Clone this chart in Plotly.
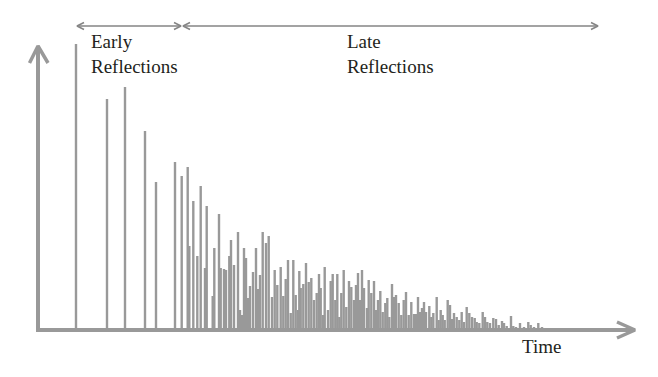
import plotly.graph_objects as go

# ---- data (time in ms, amplitude in arbitrary units) ----
early_times = [38, 69, 87, 107, 118]
early_amps = [286, 231, 243, 199, 148]

late_times = [
    137, 143.7, 149.7, 151.3, 155.3, 159.3, 162.7, 167, 168.7, 174.7, 176.3, 181, 182.7, 186, 188,
    191.3, 193, 196, 200, 202, 204, 206, 208, 210, 212, 215, 218, 220, 222, 224.7, 228, 230.7,
    234, 236.7, 239.3, 242.7, 245.3, 247.7, 250, 252.7, 255.3, 257.7, 260, 261.3, 262.7, 265.3,
    268, 270.7, 273.3, 276, 278.7, 281, 282.7, 285, 286.7, 290, 292.7, 294.7, 297.3, 299.3,
    301.3, 303.3, 305.7, 308.3, 311, 313.3, 316, 318, 320, 322, 324, 326, 329, 330.7, 333.3,
    336, 338, 340, 342.3, 344.7, 347.3, 349.3, 351.3, 354, 356, 358, 360.7, 363.3, 365.7, 368,
    370.7, 373.3, 376, 378, 380, 382, 384, 386, 388, 391.3, 393.3, 395.3, 398.7, 400.7, 402.7,
    404.7, 406.7, 409.7, 412, 414, 416, 418.7, 421.3, 423.7, 426, 428.7, 431.3, 434, 436.7,
    438.7, 441.3, 444.7, 447, 449.3, 452, 455.3, 458, 460.7, 464, 466, 468.7, 473, 475.3, 478,
    482, 486, 490.3, 492.7, 496, 500.3, 504, 507,
]
late_amps = [
    168, 154, 163, 84, 129, 74, 144, 62, 124, 34, 82, 116, 62, 61, 60,
    74, 90, 65, 98, 20, 15, 82, 72, 32, 44, 58, 82, 41, 55, 98, 87, 94,
    33, 60, 45, 63, 34, 51, 70, 17, 70, 35, 20, 59, 42, 46,
    67, 48, 52, 30, 37, 56, 42, 15, 63, 20, 49, 56, 30, 56,
    13, 37, 60, 23, 49, 43, 30, 45, 57, 30, 60, 42, 22, 50, 37,
    49, 20, 30, 39, 18, 27, 32, 13, 46, 33, 35, 27, 15, 30, 38,
    15, 28, 16, 16, 33, 18, 22, 28, 18, 24, 13, 17, 33, 10, 20,
    15, 10, 30, 25, 11, 17, 13, 10, 18, 8, 23, 17, 13, 12,
    8, 7, 18, 13, 8, 7, 12, 11, 5, 9, 7, 4, 14, 4, 3,
    7, 3, 8, 5, 3, 7, 3, 2,
]

early_span = [39, 143]
late_span = [145, 560]
early_label = "Early<br>Reflections"
late_label = "Late<br>Reflections"
x_label = "Time"

# ---- style ----
GRAY = "#999999"
ARROW_GRAY = "#858585"
TEXT = "#231f20"
FONT = "Liberation Serif"

X_RANGE = [-38, 620]
Y_RANGE = [-47, 330]

fig = go.Figure()

fig.add_trace(go.Bar(
    x=early_times + late_times,
    y=early_amps + late_amps,
    width=2.4,
    marker=dict(color=GRAY, line=dict(width=0)),
    hoverinfo="skip",
))

# axes with open arrowheads (in axis units: 1 unit ~ 1 px)
y_top = 284
x_end = 597
fig.add_trace(go.Scatter(  # vertical axis
    x=[0, 0], y=[-1, y_top], mode="lines",
    line=dict(color=GRAY, width=4), hoverinfo="skip"))
fig.add_trace(go.Scatter(  # vertical arrowhead
    x=[-8.5, 0, 10], y=[y_top - 17, y_top, y_top - 17], mode="lines",
    line=dict(color=GRAY, width=3.5), hoverinfo="skip"))
fig.add_trace(go.Scatter(  # horizontal axis
    x=[-2, x_end], y=[0, 0], mode="lines",
    line=dict(color=GRAY, width=4), hoverinfo="skip"))
fig.add_trace(go.Scatter(  # horizontal arrowhead
    x=[x_end - 18, x_end, x_end - 18], y=[8, 0, -8], mode="lines",
    line=dict(color=GRAY, width=3.5), hoverinfo="skip"))

# span arrows at the top
span_y = 304
for a, b in (early_span, late_span):
    fig.add_trace(go.Scatter(
        x=[a, b], y=[span_y, span_y], mode="lines",
        line=dict(color=ARROW_GRAY, width=1.6), hoverinfo="skip"))
    fig.add_trace(go.Scatter(
        x=[a + 7, a, a + 7, None, b - 7, b, b - 7],
        y=[span_y + 3.5, span_y, span_y - 3.5, None, span_y + 3.5, span_y, span_y - 3.5],
        mode="lines", line=dict(color=ARROW_GRAY, width=1.6), hoverinfo="skip"))

annots = [
    dict(x=50.5, y=276, text=early_label, xanchor="left", yanchor="middle", align="left"),
    dict(x=306.5, y=276, text=late_label, xanchor="left", yanchor="middle", align="left"),
    dict(x=503, y=-16, text=x_label, xanchor="center", yanchor="middle"),
]
for a in annots:
    fig.add_annotation(**a, showarrow=False, font=dict(family=FONT, size=19, color=TEXT))

fig.update_layout(
    width=658, height=377,
    margin=dict(l=0, r=0, t=0, b=0),
    paper_bgcolor="white", plot_bgcolor="white",
    showlegend=False,
    xaxis=dict(range=X_RANGE, visible=False, fixedrange=True),
    yaxis=dict(range=Y_RANGE, visible=False, fixedrange=True),
)

fig.write_html(
    "out.html",
    config={"displayModeBar": False},
    post_script="document.body.style.margin='0';document.body.style.overflow='hidden';",
)
